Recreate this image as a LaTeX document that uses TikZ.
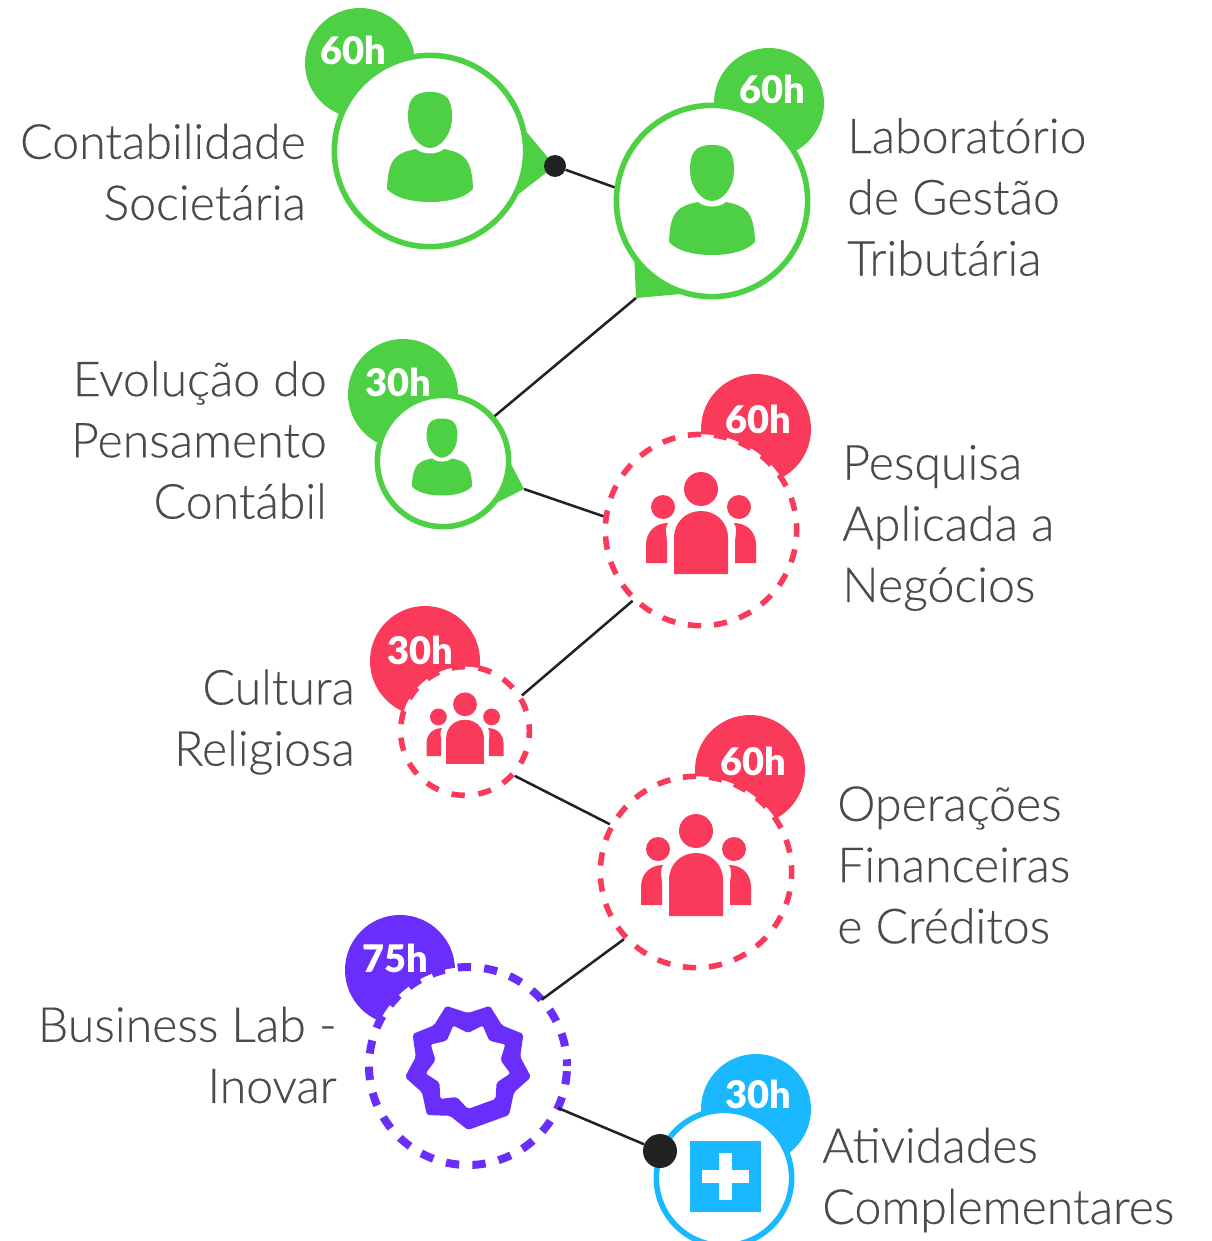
\documentclass[tikz,border=0pt]{standalone}
\usepackage{fontspec}
\setmainfont{Lato Light}[FakeBold=0.3]
\newfontfamily\hoursfont{Lato Black}
\usetikzlibrary{backgrounds}
\definecolor{grn}{HTML}{4DD044}
\definecolor{rd}{HTML}{F93A5A}
\definecolor{vio}{HTML}{6A2EFA}
\definecolor{sky}{HTML}{1AB8FF}
\definecolor{ink}{HTML}{222222}
\definecolor{labelgray}{HTML}{4A4A4A}
\tikzset{
    course/.style={circle,draw=#1,fill=white,line width=4.2pt,inner sep=0pt},
    badge/.style={circle,fill=#1,minimum size=82.5pt,inner sep=0pt},
    hours/.style={font=\hoursfont\fontsize{28.5}{28.5}\selectfont,text=white,inner sep=0pt},
    coursename/.style={font=\fontsize{36.2}{45.9}\selectfont,text=labelgray,inner sep=0pt},
    dot/.style={circle,fill=ink,inner sep=0pt},
    link/.style={draw=ink,line width=1.9pt},
    person/.pic={
        \fill[grn] (0,-55) .. controls (-18,-55) and (-22,-46) .. (-22,-30) .. controls (-22,-12) and (-10,1) .. (0,1) .. controls (10,1) and (22,-12) .. (22,-30) .. controls (22,-46) and (18,-55) .. (0,-55) -- cycle;
        \fill[grn] (-14,2) .. controls (-8,8) and (8,8) .. (14,2) .. controls (33,6) and (42,10) .. (43,42) .. controls (34,52) and (15,55) .. (0,55) .. controls (-15,55) and (-34,52) .. (-43,42) .. controls (-42,10) and (-33,6) .. (-14,2) -- cycle;
    },
    crowd/.pic={
        \fill[rd] (0,-41) circle (17);
        \fill[rd] (-38,-23) circle (12);
        \fill[rd] (38,-23) circle (12);
        \fill[rd] (-27,44) -- (-27,8) .. controls (-27,-8) and (-15,-19) .. (0,-19) .. controls (15,-19) and (27,-8) .. (27,8) -- (27,44) -- cycle;
        \fill[rd] (-55,33) -- (-55,15) .. controls (-55,2) and (-46,-7) .. (-33,-7) .. controls (-37,0) and (-34,5) .. (-34,12) -- (-34,33) -- cycle;
        \fill[rd] (55,33) -- (55,15) .. controls (55,2) and (46,-7) .. (33,-7) .. controls (37,0) and (34,5) .. (34,12) -- (34,33) -- cycle;
    },
    seal/.pic={
        \fill[vio,even odd rule,rounded corners=1.5pt] (90:64) \foreach \a in {110,150,...,410} {-- (\a:53) -- (\a+20:64)} -- cycle
            (90:43) \foreach \a in {110,150,...,410} {-- (\a:33) -- (\a+20:43)} -- cycle;
    },
    aid/.pic={
        \fill[sky] (-35.5,-35.5) rectangle (35.5,35.5);
        \fill[white] (-23.5,-6.5) rectangle (23.5,6.5);
        \fill[white] (-6.5,-23.5) rectangle (6.5,23.5);
    }
}

\begin{document}
\begin{tikzpicture}[x=0.75pt,y=-0.75pt]
    \useasboundingbox (0,0) rectangle (1212,1241);

    \node[course=grn,minimum size=143.5pt] (societaria) at (430,151) {};
    \node[course=grn,minimum size=143.5pt] (gestao) at (712,201) {};
    \node[course=grn,minimum size=98.5pt] (evolucao) at (443,461) {};
    \node[course=rd,dash pattern=on 10pt off 9.6pt,dash phase=5pt,minimum size=143.5pt] (pesquisa) at (701,530) {};
    \node[course=rd,dash pattern=on 10pt off 10.2pt,dash phase=5pt,minimum size=96.5pt] (cultura) at (465,731) {};
    \node[course=rd,dash pattern=on 10pt off 9.6pt,dash phase=5pt,minimum size=143.5pt] (operacoes) at (696,872) {};
    \node[course=vio,line width=6pt,dash pattern=on 10pt off 9.9pt,dash phase=5pt,outer sep=0pt,minimum size=148.5pt] (inovar) at (468,1066) {};
    \node[course=sky,minimum size=101.5pt] (atividades) at (724,1178) {};

    \node[dot,minimum size=16.5pt] (dotA) at (555,166) {};
    \node[dot,minimum size=25.5pt] (dotB) at (660,1151) {};
    \coordinate (tipB) at (636,298);
    \coordinate (tipC) at (524,489);

    \begin{scope}[on background layer]
        \node[badge=grn] (badgeA) at (360,63) {};
        \node[badge=grn] (badgeB) at (769,103) {};
        \node[badge=grn] (badgeC) at (403,394) {};
        \node[badge=rd] (badgeD) at (756,429) {};
        \node[badge=rd] (badgeE) at (425,661) {};
        \node[badge=rd] (badgeF) at (750,770) {};
        \node[badge=vio] (badgeG) at (400,970) {};
        \node[badge=sky] (badgeH) at (756,1109) {};
        \fill[grn] (societaria.11) -- (dotA.center) -- (societaria.-26) -- cycle;
        \fill[grn] (gestao.218) -- (tipB) -- (gestao.251) -- cycle;
        \fill[grn] (evolucao.-3) -- (tipC) -- (evolucao.-37) -- cycle;
    \end{scope}

    \draw[link] (dotA) -- (gestao.172);
    \draw[link] (tipB) -- (evolucao.41);
    \draw[link] (tipC) -- (pesquisa.172);
    \draw[link] (pesquisa.226) -- (cultura.32);
    \draw[link] (cultura.-42) -- (operacoes.151);
    \draw[link] (operacoes.223) -- (inovar.42);
    \draw[link] (inovar.-25) -- (dotB);

    \pic at (430,147) {person};
    \pic at (712,200) {person};
    \pic[scale=0.7] at (442,457) {person};
    \pic at (701,530) {crowd};
    \pic[scale=0.7] at (465,733) {crowd};
    \pic at (696,872) {crowd};
    \pic at (468,1066) {seal};
    \pic at (725,1176) {aid};

    \node[hours] (hoursA) at (353,50) {60h};
    \node[hours] (hoursB) at (772,89) {60h};
    \node[hours] (hoursC) at (398,382) {30h};
    \node[hours] (hoursD) at (758,419) {60h};
    \node[hours] (hoursE) at (420,650) {30h};
    \node[hours] (hoursF) at (753,761) {60h};
    \node[hours] (hoursG) at (395,958) {75h};
    \node[hours] (hoursH) at (758,1094) {30h};

    \node[coursename,align=right,anchor=east] (labelA) at (306,172) {Contabilidade\\Societária};
    \node[coursename,align=left,anchor=west] (labelB) at (847,197) {Laboratório\\de Gestão\\Tributária};
    \node[coursename,align=right,anchor=east] (labelC) at (327,440) {Evolução do\\Pensamento\\Contábil};
    \node[coursename,align=left,anchor=west] (labelD) at (842,528) {Pesquisa\\Aplicada a\\Negócios};
    \node[coursename,align=right,anchor=east] (labelE) at (355,722) {Cultura\\Religiosa};
    \node[coursename,align=left,anchor=west] (labelF) at (837,865) {Operações\\Financeiras\\e Créditos};
    \node[coursename,align=right,anchor=east] (labelG) at (337,1055) {Business Lab -\\Inovar};
    \node[coursename,align=left,anchor=west] (labelH) at (822,1180) {Atividades\\Complementares};
\end{tikzpicture}
\end{document}
